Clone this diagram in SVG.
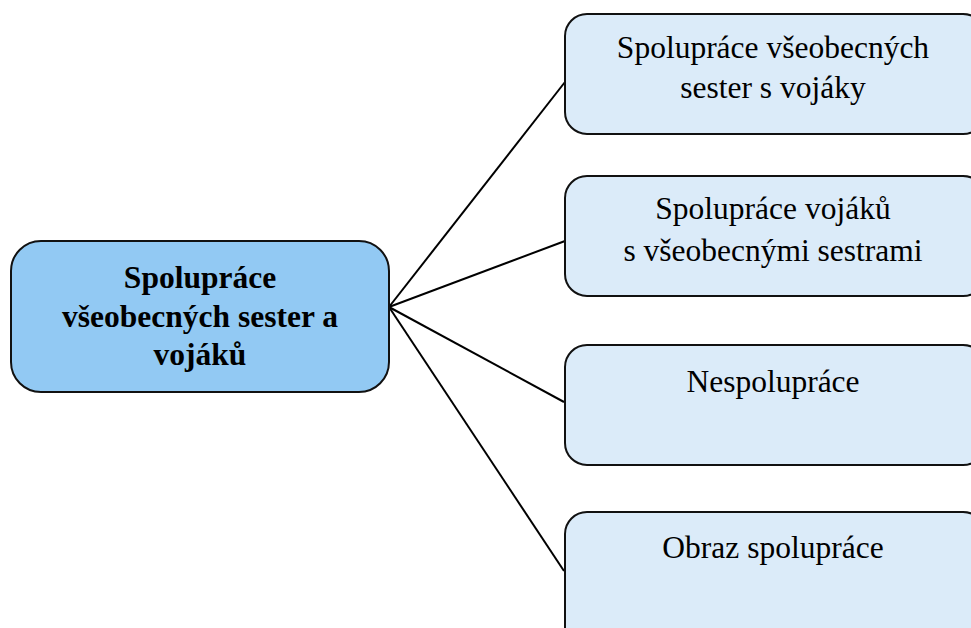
<svg xmlns="http://www.w3.org/2000/svg" width="971" height="628" viewBox="0 0 971 628">
<style>
.main{fill:#92c9f3;stroke:#111;stroke-width:2}
.sub{fill:#dbebf9;stroke:#111;stroke-width:2}
.t{font-family:"Liberation Serif",serif;font-size:31.5px;text-anchor:middle;fill:#000}
.b{font-weight:bold}
.c{fill:none;stroke:#000;stroke-width:2}
</style>
<rect width="971" height="628" fill="#fff"/>
<g id="connectors">
<line class="c" x1="389" y1="307" x2="565" y2="82"/>
<line class="c" x1="389" y1="307" x2="565" y2="241"/>
<line class="c" x1="389" y1="307" x2="564" y2="402"/>
<line class="c" x1="389" y1="307" x2="564" y2="571"/>
</g>
<g id="main">
<rect class="main" x="11" y="241" width="378" height="151" rx="30"/>
<text class="t b" x="200" y="288">Spolupráce</text>
<text class="t b" x="200" y="327">všeobecných sester a</text>
<text class="t b" x="200" y="365">vojáků</text>
</g>
<g id="n1">
<rect class="sub" x="565" y="14" width="420" height="120" rx="22"/>
<text class="t" x="773" y="58">Spolupráce všeobecných</text>
<text class="t" x="773" y="98">sester s vojáky</text>
</g>
<g id="n2">
<rect class="sub" x="565" y="176" width="420" height="120" rx="22"/>
<text class="t" x="773" y="219">Spolupráce vojáků</text>
<text class="t" x="773" y="261">s všeobecnými sestrami</text>
</g>
<g id="n3">
<rect class="sub" x="565" y="345" width="420" height="120" rx="22"/>
<text class="t" x="773" y="392">Nespolupráce</text>
</g>
<g id="n4">
<rect class="sub" x="565" y="512" width="420" height="140" rx="22"/>
<text class="t" x="773" y="558">Obraz spolupráce</text>
</g>
</svg>
